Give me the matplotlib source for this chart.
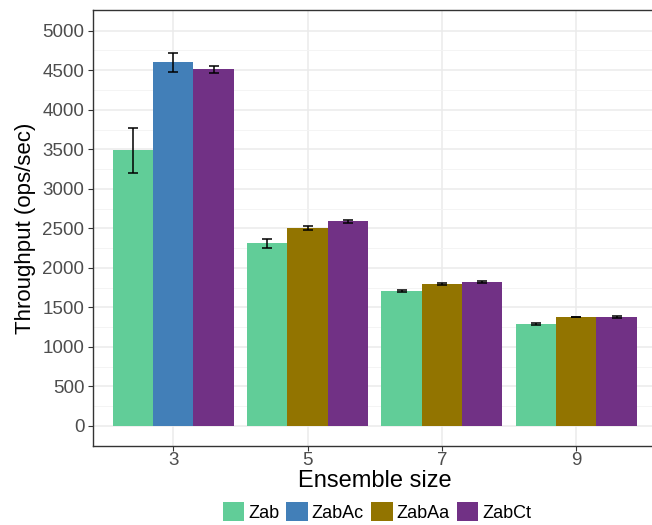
import matplotlib
matplotlib.use("Agg")
import matplotlib.pyplot as plt
from matplotlib.patches import Patch
import numpy as np

plt.rcParams['font.family'] = ['Liberation Sans', 'DejaVu Sans']

# data
ensemble_sizes = ["3", "5", "7", "9"]
series = ["Zab", "ZabAc", "ZabAa", "ZabCt"]
colors = {"Zab": "#61cd98", "ZabAc": "#427fb8", "ZabAa": "#927400", "ZabCt": "#713185"}

# each group has three bars: (series, mean, error)
group_3 = [("Zab", 3490, 285), ("ZabAc", 4600, 120), ("ZabCt", 4510, 45)]
group_5 = [("Zab", 2310, 55), ("ZabAa", 2500, 25), ("ZabCt", 2590, 20)]
group_7 = [("Zab", 1705, 15), ("ZabAa", 1795, 12), ("ZabCt", 1820, 10)]
group_9 = [("Zab", 1290, 8), ("ZabAa", 1378, 5), ("ZabCt", 1378, 8)]
groups = [group_3, group_5, group_7, group_9]

fig = plt.figure(figsize=(6.52, 5.25), dpi=100)
ax = fig.add_axes([0.142, 0.1505, 0.8655, 0.8305])

width = 0.9 / 3
x = np.arange(len(ensemble_sizes)) + 1
for gi, grp in enumerate(groups):
    for bi, (name, mean, err) in enumerate(grp):
        pos = x[gi] + (bi - 1) * width
        ax.bar(pos, mean, width=width, color=colors[name], zorder=2)
        ax.errorbar(pos, mean, yerr=err, color="black", capsize=3.5,
                    elinewidth=1.1, capthick=1.1, zorder=3)

ax.set_xlim(0.4, 4.6)
ax.set_ylim(-253, 5262)
ax.set_xticks(x)
ax.set_xticklabels(ensemble_sizes)
ax.set_yticks(np.arange(0, 5001, 500))
ax.set_yticks(np.arange(250, 5001, 500), minor=True)
ax.grid(True, which="major", color="#ebebeb", linewidth=1.1, zorder=0)
ax.grid(True, which="minor", axis="y", color="#f3f3f3", linewidth=0.6, zorder=0)
ax.set_axisbelow(True)
ax.tick_params(axis="both", which="major", labelsize=13.5, labelcolor="#4d4d4d",
               color="#333333", length=3.5, pad=2.5)
ax.tick_params(axis="x", which="major", pad=1.0)
ax.tick_params(axis="y", which="minor", length=0)
for sp in ax.spines.values():
    sp.set_color("#333333")
    sp.set_linewidth(1.0)

ax.set_xlabel("Ensemble size", fontsize=17)
ax.set_ylabel("Throughput (ops/sec)", fontsize=16)
ax.xaxis.set_label_coords(0.5, -0.056)
ax.yaxis.set_label_coords(-0.100, 0.5)

handles = [Patch(facecolor=colors[s], label=s) for s in series]
fig.legend(handles=handles, loc="center", ncol=4, frameon=False,
           fontsize=13, bbox_to_anchor=(0.578, 0.025), handlelength=1.2,
           handleheight=1.2, handletextpad=0.2, columnspacing=0.4)

fig.savefig("out.png", dpi=100)
